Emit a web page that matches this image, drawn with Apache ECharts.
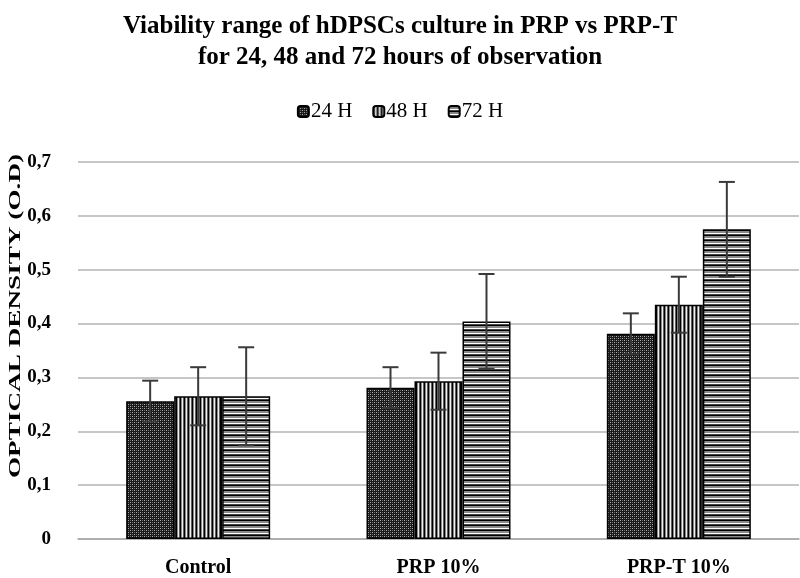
<!DOCTYPE html>
<html>
<head>
<meta charset="utf-8">
<script src="https://cdn.jsdelivr.net/npm/echarts@6/dist/echarts.min.js"></script>
<style>html,body{margin:0;padding:0;background:#fff}#chart{width:800px;height:578px}</style>
</head>
<body>
<div id="chart"></div>
<script>
const categories = ['Control', 'PRP 10%', 'PRP-T 10%'];
const seriesNames = ['24 H', '48 H', '72 H'];
const values24 = [0.256, 0.281, 0.381];
const values48 = [0.265, 0.293, 0.435];
const values72 = [0.265, 0.404, 0.575];
const err24 = [0.038, 0.038, 0.038];
const err48 = [0.054, 0.053, 0.052];
const err72 = [0.091, 0.088, 0.088];
const yTicks = [0, 0.1, 0.2, 0.3, 0.4, 0.5, 0.6, 0.7];

const BAR_W = 48;
const FONT = '"Liberation Serif", "Times New Roman", serif';

function makePattern(kind) {
  const c = document.createElement('canvas');
  const ctx = c.getContext('2d');
  if (kind === 0) {
    c.width = 4; c.height = 4;
    ctx.fillStyle = '#1a1a1a'; ctx.fillRect(0, 0, 4, 4);
    ctx.fillStyle = '#b0b0b0';
    ctx.fillRect(0, 0, 1, 1); ctx.fillRect(2, 2, 1, 1);
    ctx.fillStyle = '#6a6a6a';
    ctx.fillRect(2, 0, 1, 1); ctx.fillRect(0, 2, 1, 1);
  } else if (kind === 1) {
    c.width = 4; c.height = 4;
    const cols = ['#000', '#8a8a8a', '#f0f0f0', '#5e5e5e'];
    cols.forEach((col, i) => { ctx.fillStyle = col; ctx.fillRect(i, 0, 1, 4); });
  } else {
    c.width = 4; c.height = 5;
    const rows = ['#000', '#8a8a8a', '#8a8a8a', '#fff', '#444'];
    rows.forEach((col, i) => { ctx.fillStyle = col; ctx.fillRect(0, i, 4, 1); });
  }
  return { image: c, repeat: 'repeat' };
}

const allValues = [values24, values48, values72];
const allErr = [err24, err48, err72];

const barSeries = seriesNames.map((name, i) => ({
  name: name,
  type: 'bar',
  data: allValues[i],
  barWidth: BAR_W,
  barGap: '0%',
  itemStyle: { color: makePattern(i), borderColor: '#000', borderWidth: 1.5 },
  z: 2
}));

const errSeries = seriesNames.map((name, i) => ({
  type: 'custom',
  name: name + ' err',
  data: allValues[i].map((v, k) => [k, v, allErr[i][k]]),
  z: 5,
  silent: true,
  renderItem: function (params, api) {
    const k = api.value(0), v = api.value(1), e = api.value(2);
    const hi = api.coord([k, v + e]);
    const lo = api.coord([k, v - e]);
    const x = hi[0] + (i - 1) * BAR_W;
    const cap = 8;
    const st = { stroke: '#3a3a3a', lineWidth: 2 };
    return {
      type: 'group',
      children: [
        { type: 'line', shape: { x1: x, y1: hi[1], x2: x, y2: lo[1] }, style: st },
        { type: 'line', shape: { x1: x - cap, y1: hi[1], x2: x + cap, y2: hi[1] }, style: st },
        { type: 'line', shape: { x1: x - cap, y1: lo[1], x2: x + cap, y2: lo[1] }, style: st }
      ]
    };
  },
  encode: { x: 0, y: 1 }
}));

const chart = echarts.init(document.getElementById('chart'));
chart.setOption({
  animation: false,
  backgroundColor: '#fff',
  title: {
    text: 'Viability range of hDPSCs culture in PRP vs PRP-T\nfor 24, 48 and 72 hours of observation',
    left: 'center',
    top: 6,
    textStyle: { fontFamily: FONT, fontWeight: 'bold', fontSize: 25, lineHeight: 31, color: '#000' }
  },
  legend: {
    data: seriesNames,
    top: 96,
    left: 'center',
    itemWidth: 11,
    itemHeight: 11,
    itemGap: 20,
    textStyle: { fontFamily: FONT, fontSize: 21, color: '#000', padding: [0, 0, 0, -3] }
  },
  grid: { left: 78, right: 1, top: 162, bottom: 38, containLabel: false },
  xAxis: {
    type: 'category',
    data: categories,
    axisLine: { lineStyle: { color: '#a8a8a8', width: 1.5 } },
    axisTick: { show: false },
    axisLabel: { fontFamily: FONT, fontWeight: 'bold', fontSize: 20, color: '#000', margin: 19 }
  },
  yAxis: {
    type: 'value',
    min: yTicks[0],
    max: yTicks[yTicks.length - 1],
    interval: 0.1,
    axisLine: { show: false },
    axisTick: { show: false },
    splitLine: { lineStyle: { color: '#b3b3b3', width: 1.5 } },
    axisLabel: {
      fontFamily: FONT, fontWeight: 'bold', fontSize: 19, color: '#000', margin: 27,
      formatter: v => (Math.round(v * 10) / 10).toString().replace('.', ',')
    }
  },
  graphic: [{
    type: 'text',
    x: 16, y: 316,
    rotation: Math.PI / 2,
    scaleX: 1.7,
    style: {
      text: 'OPTICAL DENSITY (O.D)',
      font: 'bold 16px ' + FONT,
      fill: '#000',
      textAlign: 'center',
      textVerticalAlign: 'middle'
    }
  }],
  series: barSeries.concat(errSeries)
});
</script>
</body>
</html>
